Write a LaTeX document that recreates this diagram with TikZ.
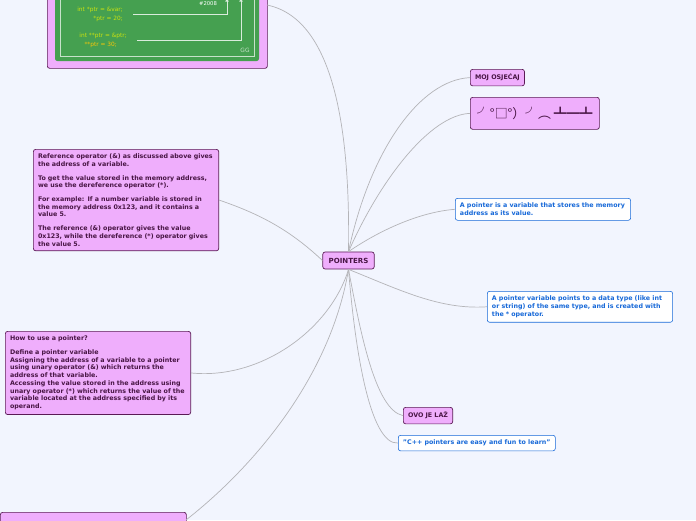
\documentclass[tikz,border=0pt]{standalone}
\usepackage{fontspec}
\setmainfont{DejaVu Sans}
\newfontfamily\emofont{Noto Sans CJK SC}
\usetikzlibrary{positioning}
\hyphenpenalty=10000
\definecolor{bgblue}{HTML}{F2F5FE}
\definecolor{pinkfill}{HTML}{EFAEFC}
\definecolor{pinkdraw}{HTML}{5A1A55}
\definecolor{bluetext}{HTML}{1668D8}
\definecolor{greenboard}{HTML}{45A050}
\definecolor{linkgray}{HTML}{B4B4B8}
\begin{document}
\begin{tikzpicture}[x=0.03cm, y=-0.03cm,
    topic/.style={rectangle, draw=pinkdraw, fill=pinkfill, rounded corners=2pt, line width=0.6pt, align=left, font=\fontsize{5.4}{6.6}\selectfont\bfseries, text=pinkdraw!80!black, inner sep=4pt},
    note/.style={rectangle, draw=bluetext, fill=white, rounded corners=2pt, line width=0.5pt, align=left, font=\fontsize{5.4}{6.6}\selectfont\bfseries, text=bluetext, inner sep=4pt},
    link/.style={draw=linkgray, line width=0.6pt},
    code/.style={font=\fontsize{5}{6}\selectfont, text=yellow!80!green, anchor=east}
]
\useasboundingbox[fill=bgblue] (0,0) rectangle (696,520);

% image topic
\node[topic, anchor=north west, minimum width=220*0.03cm, minimum height=80*0.03cm, inner sep=0pt] (pic) at (47,-12) {};
\fill[greenboard, rounded corners=2pt] (55,-12) rectangle (259,61);
\draw[white!70!greenboard, line width=0.4pt] (60,-12) -- (60,56) -- (254,56) -- (254,-12);
\node[code] (c1) at (127,10) {int *ptr = \&var;};
\node[code] (c2) at (127,19) {*ptr = 20;};
\node[code] (c3) at (131,36) {int **ptr = \&ptr;};
\node[code, text=yellow!60!orange] (c4) at (121,45) {**ptr = 30;};
\node[font=\fontsize{4.5}{5}\selectfont, text=white] (addr) at (208,4) {\#2008};
\draw[white!80!greenboard, line width=0.4pt, -latex] (133,14) -- (227,14) -- (227,-3);
\draw[white!80!greenboard, line width=0.4pt, -latex] (137,40) -- (241,40) -- (241,-3);
\node[font=\fontsize{5}{6}\selectfont, text=white!70!greenboard] (gfg) at (245,50) {GG};

\node[topic, font=\fontsize{6}{7}\selectfont\bfseries, inner sep=5pt] (root) at (348.5,260.5) {POINTERS};

\node[topic, anchor=north west] (feel) at (470,69) {MOJ OSJEĆAJ};
\node[topic, anchor=north west, font=\emofont\fontsize{11}{12}\selectfont, minimum width=129*0.03cm, minimum height=32*0.03cm] (flip) at (470,97) {╯°□°）╯︵ ┻━┻};
\node[note, anchor=north west, text width=166*0.03cm] (def) at (455,198) {A pointer is a variable that stores the memory address as its value.};
\node[note, anchor=north west, text width=176*0.03cm] (type) at (487,291) {A pointer variable points to a data type (like int or string) of the same type, and is created with the * operator.};
\node[topic, anchor=north west] (lie) at (403,407) {OVO JE LAŽ};
\node[note, anchor=north west] (quote) at (398,435) {"C++ pointers are easy and fun to learn"};

\node[topic, anchor=north west, text width=176*0.03cm] (deref) at (33,149) {Reference operator (\&) as discussed above gives the address of a variable.\\[5pt]To get the value stored in the memory address, we use the dereference operator (*).\\[5pt]For example: If a number variable is stored in the memory address 0x123, and it contains a value 5.\\[5pt]The reference (\&) operator gives the value 0x123, while the dereference (*) operator gives the value 5.};
\node[topic, anchor=north west, text width=176*0.03cm] (use) at (5,331) {How to use a pointer?\\[5pt]Define a pointer variable\\Assigning the address of a variable to a pointer using unary operator (\&) which returns the address of that variable.\\Accessing the value stored in the address using unary operator (*) which returns the value of the variable located at the address specified by its operand.};
\node[topic, anchor=north west, minimum width=186*0.03cm, minimum height=20*0.03cm] (more) at (0,512) {};

\draw[link] (root.north) .. controls (350,150) and (340,20) .. (267,5);
\draw[link] (root.north) .. controls (370,150) and (420,80) .. (feel.west);
\draw[link] (root.north) .. controls (380,180) and (430,115) .. (flip.west);
\draw[link] (root.north) .. controls (380,230) and (420,212) .. (def.west);
\draw[link] (root.south) .. controls (400,290) and (440,310) .. (type.west);
\draw[link] (root.south) .. controls (360,330) and (375,410) .. (lie.west);
\draw[link] (root.south) .. controls (355,350) and (370,445) .. (quote.west);
\draw[link] (root.west) .. controls (290,230) and (260,214) .. (deref.east);
\draw[link] (root.south) .. controls (330,330) and (260,380) .. (use.east);
\draw[link] (root.south) .. controls (330,380) and (250,470) .. (186,520);
\end{tikzpicture}
\end{document}
